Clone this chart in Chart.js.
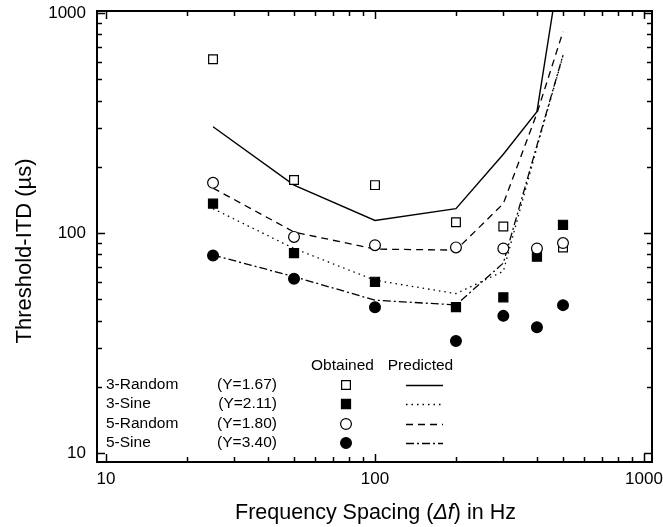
<!DOCTYPE html>
<html>
<head>
<meta charset="utf-8">
<script src="https://cdn.jsdelivr.net/npm/chart.js@4.4.0/dist/chart.umd.min.js"></script>
<style>
  html, body { margin: 0; padding: 0; background: #fff; }
</style>
</head>
<body>
<canvas id="grafico" width="663" height="527"></canvas>
<script>
// Frequency spacing (Hz)
const frequencias = [25, 50, 100, 200, 300, 400, 500];

// Obtained thresholds (µs)
const obtido3Random = [616, 174, 165, 112, 107, null, 86];
const obtido3Sine = [136, 81, 60, 46, 51, 78, 109];
const obtido5Random = [169, 96, 88, 86, 85, 85, 90];
const obtido5Sine = [79, 62, 46, 32.3, 42, 37.3, 47];

// Predicted thresholds (µs)
const previsto3Random = [304, 165, 114, 129, 228, 356, 2000];
const previsto3Sine = [129, 85, 61, 53, 67, 245, 640];
const previsto5Random = [160, 101, 84.5, 83.6, 136, 350, 822];
const previsto5Sine = [79.4, 63.3, 49.5, 47.1, 73, 250, 644];

const legendaNomes = ["3-Random", "3-Sine", "5-Random", "5-Sine"];
const legendaY = ["(Y=1.67)", "(Y=2.11)", "(Y=1.80)", "(Y=3.40)"];
const ticksPrincipais = [10, 100, 1000];

const fonte = '"Liberation Sans", Arial, sans-serif';

function pontos(valores) {
  const out = [];
  valores.forEach((v, i) => {
    if (v !== null) out.push({ x: frequencias[i], y: v });
  });
  return out;
}

// estilos por serie (ordem: 3-Random, 3-Sine, 5-Random, 5-Sine)
const simbolos = [
  { style: "rect", fill: "#fff", r: 6.2 },
  { style: "rect", fill: "#000", r: 6.4 },
  { style: "circle", fill: "#fff", r: 5.4 },
  { style: "circle", fill: "#000", r: 5.4 }
];
const tracos = [[], [1.5, 4], [7, 5], [8, 3, 2, 3]];

function obtido(idx, valores) {
  const s = simbolos[idx];
  return {
    data: pontos(valores),
    showLine: false,
    pointStyle: s.style,
    pointRadius: s.r,
    pointHoverRadius: s.r,
    pointBackgroundColor: s.fill,
    pointBorderColor: "#000",
    pointBorderWidth: 1.2
  };
}

function previsto(idx, valores) {
  return {
    data: pontos(valores),
    showLine: true,
    pointRadius: 0,
    borderColor: "#000",
    borderWidth: idx === 0 ? 1.4 : 1.3,
    borderDash: tracos[idx],
    tension: 0,
    fill: false
  };
}

function desenhaSimbolo(ctx, idx, cx, cy) {
  const s = simbolos[idx];
  ctx.save();
  ctx.beginPath();
  if (s.style === "rect") {
    const h = s.r * Math.SQRT1_2;
    ctx.rect(cx - h, cy - h, 2 * h, 2 * h);
  } else {
    ctx.arc(cx, cy, s.r, 0, Math.PI * 2);
  }
  ctx.fillStyle = s.fill;
  ctx.fill();
  ctx.lineWidth = 1.2;
  ctx.strokeStyle = "#000";
  ctx.stroke();
  ctx.restore();
}

const molduraPlugin = {
  id: "moldura",
  afterDatasetsDraw(chart) {
    const { ctx, chartArea: a, scales } = chart;
    const x = scales.x, y = scales.y;
    ctx.save();
    ctx.strokeStyle = "#000";
    ctx.setLineDash([]);
    ctx.lineWidth = 2;
    ctx.strokeRect(a.left, a.top, a.right - a.left, a.bottom - a.top);

    // ticks para dentro nos quatro lados
    ctx.lineWidth = 1.5;
    ctx.beginPath();
    for (let d = 10; d <= 1000; d *= 10) {
      for (let m = 1; m <= 9; m++) {
        const v = d * m;
        if (v > 1000) break;
        const len = m === 1 ? 8 : 5;
        const px = Math.round(x.getPixelForValue(v)) + 0.5;
        ctx.moveTo(px, a.bottom); ctx.lineTo(px, a.bottom - len);
        ctx.moveTo(px, a.top); ctx.lineTo(px, a.top + len);
        const py = Math.round(y.getPixelForValue(v)) + 0.5;
        ctx.moveTo(a.left, py); ctx.lineTo(a.left + len, py);
        ctx.moveTo(a.right, py); ctx.lineTo(a.right - len, py);
      }
    }
    ctx.stroke();
    ctx.restore();
  },
  afterDraw(chart) {
    const { ctx } = chart;
    ctx.save();
    ctx.fillStyle = "#000";

    // titulo eixo Y
    ctx.save();
    ctx.translate(25, 251);
    ctx.rotate(-Math.PI / 2);
    ctx.font = "22px " + fonte;
    ctx.textAlign = "center";
    ctx.textBaseline = "middle";
    ctx.fillText("Threshold-ITD (µs)", 0, 0);
    ctx.restore();

    // titulo eixo X com parte em italico
    const partes = [
      { t: "Frequency Spacing (", f: "21.5px " + fonte },
      { t: "Δf", f: "italic 21.5px " + fonte },
      { t: ") in Hz", f: "21.5px " + fonte }
    ];
    let total = 0;
    partes.forEach(p => { ctx.font = p.f; p.w = ctx.measureText(p.t).width; total += p.w; });
    let cx = 375.5 - total / 2;
    ctx.textBaseline = "middle";
    ctx.textAlign = "left";
    partes.forEach(p => { ctx.font = p.f; ctx.fillText(p.t, cx, 513); cx += p.w; });

    // legenda
    ctx.font = "15.5px " + fonte;
    ctx.textBaseline = "middle";
    ctx.textAlign = "center";
    ctx.fillText("Obtained", 342.5, 366);
    ctx.fillText("Predicted", 420.5, 366);
    const linhas = [385, 404, 424, 443];
    linhas.forEach((ly, i) => {
      ctx.fillStyle = "#000";
      ctx.textAlign = "left";
      ctx.fillText(legendaNomes[i], 106, ly);
      ctx.textAlign = "right";
      ctx.fillText(legendaY[i], 277, ly);
      desenhaSimbolo(ctx, i, 346, ly);
      ctx.beginPath();
      ctx.setLineDash(tracos[i]);
      ctx.lineWidth = 1.3;
      ctx.strokeStyle = "#000";
      ctx.moveTo(406, ly + 0.5);
      ctx.lineTo(443, ly + 0.5);
      ctx.stroke();
      ctx.setLineDash([]);
    });
    ctx.restore();
  }
};

const ctx = document.getElementById("grafico").getContext("2d");

new Chart(ctx, {
  type: "scatter",
  data: {
    datasets: [
      obtido(3, obtido5Sine),
      obtido(2, obtido5Random),
      obtido(1, obtido3Sine),
      obtido(0, obtido3Random),
      previsto(0, previsto3Random),
      previsto(1, previsto3Sine),
      previsto(2, previsto5Random),
      previsto(3, previsto5Sine)
    ]
  },
  options: {
    responsive: false,
    animation: false,
    devicePixelRatio: 1,
    layout: { padding: { top: 11, right: 11, left: 0, bottom: 0 } },
    plugins: {
      legend: { display: false },
      tooltip: { enabled: false }
    },
    scales: {
      x: {
        type: "logarithmic",
        min: 9.26,
        max: 1071,
        afterBuildTicks: s => { s.ticks = ticksPrincipais.map(v => ({ value: v })); },
        afterFit: s => { s.height = 65; s.paddingLeft = 0; s.paddingRight = 0; },
        grid: { display: false, drawTicks: false },
        border: { display: false },
        ticks: {
          color: "#000",
          font: { family: fonte, size: 17 },
          padding: 7,
          maxRotation: 0,
          autoSkip: false,
          callback: v => String(v)
        }
      },
      y: {
        type: "logarithmic",
        min: 9.1,
        max: 1021,
        afterBuildTicks: s => { s.ticks = ticksPrincipais.map(v => ({ value: v })); },
        afterFit: s => { s.width = 97; s.paddingTop = 0; s.paddingBottom = 0; },
        grid: { display: false, drawTicks: false },
        border: { display: false },
        ticks: {
          color: "#000",
          font: { family: fonte, size: 17 },
          padding: 11,
          autoSkip: false,
          callback: v => String(v)
        }
      }
    }
  },
  plugins: [molduraPlugin]
});
</script>
</body>
</html>
